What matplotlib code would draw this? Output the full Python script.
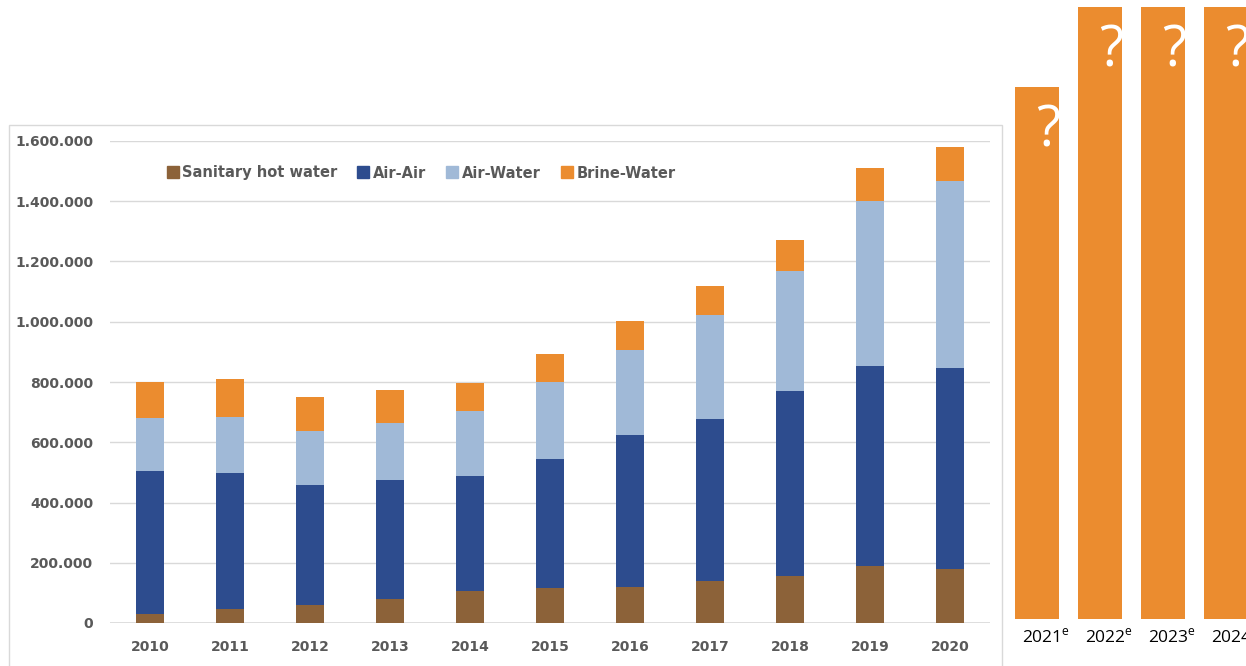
import numpy as np
import matplotlib.pyplot as plt
from matplotlib.patches import Rectangle
from matplotlib.lines import Line2D

plt.rcParams['mathtext.fontset'] = 'custom'
plt.rcParams['mathtext.rm'] = 'Open Sans'

# data (units sold)
years = ['2010', '2011', '2012', '2013', '2014', '2015',
         '2016', '2017', '2018', '2019', '2020']
sanitary = [29000, 47000, 60000, 80000, 107000, 115000, 121000, 138000, 156000, 189000, 179000]
air_air = [475000, 451000, 398000, 395000, 381000, 429000, 503000, 539000, 614000, 664000, 667000]
air_water = [177000, 186000, 179000, 189000, 216000, 256000, 282000, 345000, 398000, 548000, 621000]
brine_water = [119000, 126000, 113000, 109000, 93000, 93000, 96000, 97000, 103000, 109000, 113000]

# forecast placeholders on the right
fc_years = ['2021', '2022', '2023', '2024']
fc_values = [1766000, 2031000, 2031000, 2031000]

series = [('Sanitary hot water', sanitary, '#8c6239'),
          ('Air-Air', air_air, '#2d4c8e'),
          ('Air-Water', air_water, '#a0b9d7'),
          ('Brine-Water', brine_water, '#eb8c2f')]

W, H = 1246, 666
fig = plt.figure(figsize=(W / 100, H / 100), dpi=100)

# light frame round the main chart
fig.patches.append(Rectangle((9 / W, -0.01), (1002 - 9) / W, (666 - 125) / H + 0.01,
                             transform=fig.transFigure, fill=False,
                             edgecolor='#d9d9d9', lw=1))

ax = fig.add_axes([110 / W, (H - 623) / H, 880 / W, 482 / H])
x = np.arange(len(years))
bottom = np.zeros(len(years))
for name, vals, col in series:
    ax.bar(x, vals, 0.34, bottom=bottom, color=col, label=name, zorder=3)
    bottom += np.array(vals)

ax.set_xlim(-0.5, len(years) - 0.5)
ax.set_ylim(0, 1600000)
ax.set_yticks(np.arange(0, 1600001, 200000))
ax.set_yticklabels([f'{v:,}'.replace(',', '.') for v in range(0, 1600001, 200000)])
ax.set_xticks(x)
ax.set_xticklabels(years)
ax.yaxis.grid(True, color='#d9d9d9', lw=1, zorder=0)
for s in ax.spines.values():
    s.set_visible(False)
ax.axhline(0, color='#d9d9d9', lw=1.2, zorder=2)
ax.tick_params(length=0, colors='#595959', labelsize=10)
ax.tick_params(axis='y', pad=12)
ax.tick_params(axis='x', pad=12)
for lab in ax.get_xticklabels() + ax.get_yticklabels():
    lab.set_fontweight('bold')

handles = [Line2D([], [], marker='s', ls='', markersize=8, color=c) for _, _, c in series]
ax.legend(handles, [n for n, _, _ in series], ncol=4, frameon=False,
          loc='center left', bbox_to_anchor=(155 / W, (H - 173) / H),
          bbox_transform=fig.transFigure, handlelength=0.6, handletextpad=0.35,
          columnspacing=1.5, prop={'weight': 'bold', 'size': 10.5}, labelcolor='#595959')

# forecast bars with question marks
ax2 = fig.add_axes([(1037 - 31.5) / W, (H - 619) / H, 4 * 63 / W, 612 / H])
xf = np.arange(len(fc_years))
bars = ax2.bar(xf, fc_values, 0.7, color='#eb8c2f')
ax2.set_xlim(-0.5, len(fc_years) - 0.5)
ax2.set_ylim(0, 2031000)
ax2.axis('off')
for b, v in zip(bars, fc_values):
    t = ax2.annotate('?', (b.get_x() + b.get_width() / 2, v), xytext=(11, -45),
                     textcoords='offset pixels', ha='center', va='center',
                     color='white', fontsize=40, family='Open Sans')
    t.set_clip_path(b)
for i, yr in enumerate(fc_years):
    ax2.annotate(yr + r'$^{\mathrm{e}}$', (i, 0), xytext=(9, -18), textcoords='offset pixels',
                 ha='center', va='center', fontsize=12.5, family='Open Sans',
                 color='black', annotation_clip=False)

fig.savefig('out.png', dpi=100)
